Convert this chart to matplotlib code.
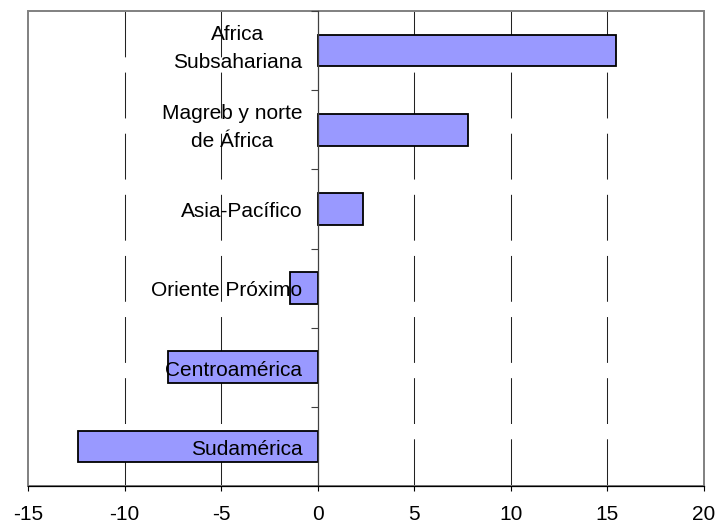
import matplotlib
matplotlib.use("Agg")
import matplotlib.pyplot as plt
from matplotlib.patches import Rectangle
from matplotlib.transforms import ScaledTranslation

plt.rcParams['font.family'] = ['Liberation Sans', 'DejaVu Sans']
plt.rcParams['lines.scale_dashes'] = False

categories = ["Africa\nSubsahariana", "Magreb y norte\nde África", "Asia-Pacífico",
              "Oriente Próximo", "Centroamérica", "Sudamérica"]
values = [15.43, 7.77, 2.37, -1.45, -7.77, -12.43]
xticks = [-15, -10, -5, 0, 5, 10, 15, 20]
grid_x = [-10, -5, 5, 10, 15]

fig = plt.figure(figsize=(7.19, 5.25), dpi=100)
ax = fig.add_axes([28/719, 39/525, 676/719, 475/525])

ypos = list(range(len(categories)))
ax.barh(ypos, values, height=0.4, color='#9999FF', edgecolor='black',
        linewidth=1.3, zorder=1)

ax.set_xlim(-15, 20)
ax.set_ylim(len(categories) - 0.5, -0.5)

# dashed vertical gridlines (behind bars), starting at top
ax.vlines(grid_x, 1, 0, transform=ax.get_xaxis_transform(), colors='#222222',
          linewidth=0.75, linestyles=(0, (33, 11)), zorder=0.5)

# plot-area border
ax.add_patch(Rectangle((0, 0), 1, 1, transform=ax.transAxes, fill=False,
                       edgecolor='#808080', linewidth=1.4, zorder=0.6, clip_on=False))

for s in ['top', 'right']:
    ax.spines[s].set_visible(False)
ax.spines['left'].set_position(('data', 0))
ax.spines['left'].set_color('#404040')
ax.spines['left'].set_linewidth(0.9)
ax.spines['bottom'].set_color('black')
ax.spines['bottom'].set_linewidth(0.9)

ax.set_xticks(xticks)
ax.set_xticklabels([str(v) for v in xticks])
ax.tick_params(axis='x', direction='out', length=3.6, width=0.8, pad=10,
               labelsize=15, colors='black')

# category labels: right-aligned left of the zero axis, drawn above bars
ax.set_yticks(ypos)
ax.set_yticklabels([''] * len(categories))
ax.tick_params(axis='y', which='major', length=0)
ax.set_yticks([i - 0.5 for i in range(len(categories))], minor=True)
ax.tick_params(axis='y', which='minor', direction='out', length=4.8, width=0.8,
               color='#404040')

trans = ax.transData + ScaledTranslation(-11 / 72, 0, fig.dpi_scale_trans)
for i, lab in enumerate(categories):
    dy = 1.5 / 72 if '\n' in lab else -2 / 72
    ax.text(0, i, lab, ha='right', va='center', multialignment='center',
            fontsize=15, linespacing=1.6, zorder=3,
            transform=trans + ScaledTranslation(0, dy, fig.dpi_scale_trans))

fig.savefig('out.png', dpi=100)
